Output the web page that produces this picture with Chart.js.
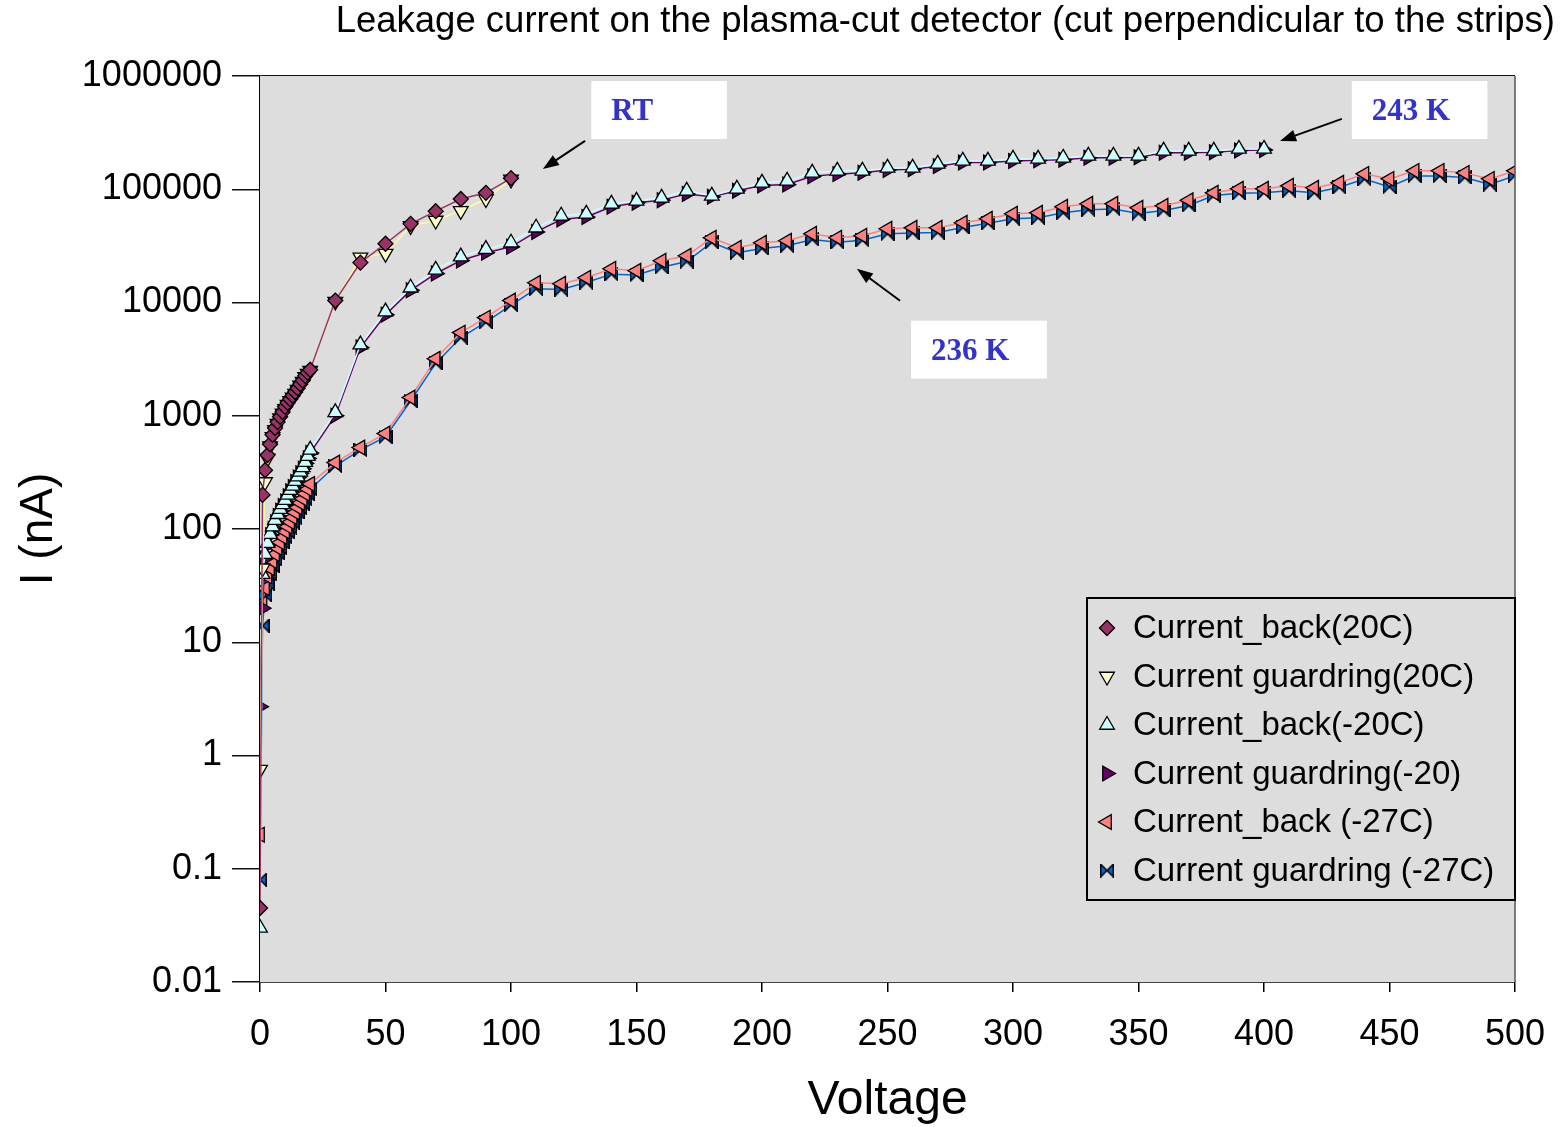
<!DOCTYPE html>
<html>
<head>
<meta charset="utf-8">
<title>Leakage current</title>
<script src="https://cdn.jsdelivr.net/npm/chart.js@4.4.1/dist/chart.umd.min.js"></script>
<style>
  html, body { margin: 0; padding: 0; background: #fff; }
  canvas { display: block; }
</style>
</head>
<body>
<canvas id="leakChart" width="1562" height="1127"></canvas>
<script>
// Bias voltage (V) for each run
const voltsRT = [0, 1, 2, 3, 4, 5, 6, 7, 8, 9, 10, 11, 12, 13, 14, 15, 16, 17, 18, 19, 20,
                 30, 40, 50, 60, 70, 80, 90, 100];
const volts20 = [0, 1, 2, 3, 4, 5, 6, 7, 8, 9, 10, 11, 12, 13, 14, 15, 16, 17, 18, 19, 20,
                 30, 40, 50, 60, 70, 80, 90, 100, 110, 120, 130, 140, 150, 160, 170, 180, 190, 200,
                 210, 220, 230, 240, 250, 260, 270, 280, 290, 300, 310, 320, 330, 340, 350, 360,
                 370, 380, 390, 400];
const volts27 = [0, 1, 2, 3, 4, 5, 6, 7, 8, 9, 10, 11, 12, 13, 14, 15, 16, 17, 18, 19, 20,
                 30, 40, 50, 60, 70, 80, 90, 100, 110, 120, 130, 140, 150, 160, 170, 180, 190, 200,
                 210, 220, 230, 240, 250, 260, 270, 280, 290, 300, 310, 320, 330, 340, 350, 360,
                 370, 380, 390, 400, 410, 420, 430, 440, 450, 460, 470, 480, 490, 500];

// Currents in nA
const backRT = [0.045, 200, 330, 450, 560, 680, 780, 880, 980, 1080, 1200, 1300, 1400, 1500, 1620,
                1750, 1900, 2050, 2250, 2400, 2550,
                10400, 22500, 33000, 49500, 64000, 82000, 93000, 125000];
const guardRT = [0.75, 45, 260, 420, 540, 650, 750, 850, 950, 1050, 1150, 1250, 1350, 1450, 1570,
                 1700, 1850, 2000, 2200, 2350, 2500,
                 10200, 25000, 27000, 47500, 53000, 64500, 82000, 122000];
const back20 = [0.03, 40, 60, 75, 90, 105, 120, 135, 150, 165, 180, 200, 220, 240, 265, 290, 320,
                350, 390, 440, 500,
                1070, 4250, 8300, 13500, 19400, 25400, 29600, 33700,
                45700, 58300, 60700, 74300, 79000, 84000, 96800, 87500, 100800, 113800,
                118600, 139500, 145300, 145300, 154400, 154400, 167400, 178000, 178000, 185400,
                185400, 189000, 197000, 197000, 197000, 218000, 218000, 218000, 227000, 227000];
const guard20 = [2.7, 20, 55, 72, 88, 100, 115, 130, 145, 160, 175, 195, 215, 235, 260, 285, 310,
                 340, 380, 420, 470,
                 1000, 4000, 7800, 12800, 18000, 23500, 27500, 31000,
                 42000, 54000, 57000, 70000, 76000, 80000, 91000, 86000, 97000, 108000,
                 110000, 130000, 136000, 140000, 148000, 150000, 160000, 172000, 172000, 178000,
                 180000, 182000, 190000, 190000, 192000, 210000, 210000, 212000, 220000, 222000];
const back27 = [0.2, 22, 30, 38, 45, 52, 60, 68, 76, 85, 95, 105, 115, 127, 140, 155, 170, 185,
                205, 225, 250,
                386, 525, 697, 1450, 3190, 5420, 7350, 10400,
                14950, 14650, 16550, 19870, 19080, 23370, 25860, 37280, 30420, 33680,
                35080, 40440, 37280, 38820, 44750, 45650, 45650, 50550, 54800, 60700,
                61900, 70000, 74300, 74300, 68500, 71400, 80000, 93000, 100800, 100800,
                107200, 102900, 113900, 136700, 123500, 145300, 145300, 139500, 123500, 145300];
const guard27 = [0.08, 14, 26, 33, 40, 47, 54, 61, 68, 76, 85, 94, 103, 114, 126, 140, 153, 167,
                 185, 203, 225,
                 360, 500, 650, 1350, 2900, 4900, 6700, 9500,
                 13200, 13000, 15000, 17800, 17500, 20500, 23000, 34000, 27500, 30000,
                 31700, 36000, 34000, 35500, 40500, 41000, 41500, 46000, 50000, 55000,
                 56000, 62000, 66000, 67000, 61000, 65000, 72000, 88000, 92000, 93000,
                 97000, 93000, 104000, 123000, 105000, 131000, 131000, 127000, 110000, 132000];

const yTickValues = [0.01, 0.1, 1, 10, 100, 1000, 10000, 100000, 1000000];
const yTickLabels = ['0.01', '0.1', '1', '10', '100', '1000', '10000', '100000', '1000000'];

const titleText = 'Leakage current on the plasma-cut detector (cut perpendicular to the strips)';

// text boxes with arrows, in data units (volts, nA)
const callouts = [
  { text: 'RT',    box: [132, 186, 903000, 278000], from: [129.5, 267000], to: [112.7, 151000] },
  { text: '243 K', box: [435, 489, 903000, 278000], from: [431, 418000],   to: [406.4, 267000] },
  { text: '236 K', box: [259.4, 313.5, 6910, 2130], from: [255, 10370],    to: [237.8, 19870] }
];

const pairs = (xs, ys) => xs.map((x, i) => ({ x: x, y: ys[i] }));

function bowtie(size, fill) {
  const c = document.createElement('canvas');
  c.width = size; c.height = size;
  const g = c.getContext('2d');
  const m = size / 2, e = size - 0.75;
  g.beginPath();
  g.moveTo(0.75, 0.75); g.lineTo(m, m); g.lineTo(e, 0.75);
  g.lineTo(e, e); g.lineTo(m, m); g.lineTo(0.75, e);
  g.closePath();
  g.fillStyle = fill; g.fill();
  g.strokeStyle = '#000'; g.lineWidth = 1.5; g.stroke();
  return c;
}

function series(label, xs, ys, style, rotation, radius, fill, line) {
  return {
    label: label,
    data: pairs(xs, ys),
    borderColor: line,
    borderWidth: 1.5,
    backgroundColor: fill,
    pointStyle: style,
    pointRotation: rotation,
    pointRadius: radius,
    pointBackgroundColor: fill,
    pointBorderColor: '#000',
    pointBorderWidth: 1.3,
    tension: 0
  };
}

const datasets = [
  series('Current_back(20C)', voltsRT, backRT, 'rectRot', 0, 7.5, '#993366', '#993366'),
  series('Current guardring(20C)', voltsRT, guardRT, 'triangle', 180, 8.5, '#FFFFCC', '#FFFF99'),
  series('Current_back(-20C)', volts20, back20, 'triangle', 0, 8.5, '#CCFFFF', '#CCFFFF'),
  series('Current guardring(-20)', volts20, guard20, 'triangle', 90, 8.5, '#660066', '#660066'),
  series('Current_back (-27C)', volts27, back27, 'triangle', -90, 8.5, '#FF8080', '#FF8080'),
  series('Current guardring (-27C)', volts27, guard27, bowtie(14, '#0066CC'), 0, 7, '#0066CC', '#0066CC')
];

const decor = {
  id: 'decor',
  beforeDatasetsDraw(chart) {
    const { ctx, chartArea: a } = chart;
    ctx.save();
    ctx.fillStyle = '#DDDDDD';
    ctx.fillRect(a.left, a.top, a.right - a.left, a.bottom - a.top);
    ctx.restore();
  },
  afterDraw(chart) {
    const { ctx, chartArea: a, scales } = chart;
    const xs = scales.x, ys = scales.y;
    ctx.save();

    // frame on the right side
    ctx.strokeStyle = '#555';
    ctx.lineWidth = 1.5;
    ctx.beginPath();
    ctx.moveTo(a.right, a.top);
    ctx.lineTo(a.right, a.bottom);
    ctx.stroke();

    // title
    ctx.fillStyle = '#000';
    ctx.font = '36.5px "Liberation Sans", Arial, sans-serif';
    ctx.textAlign = 'right';
    ctx.textBaseline = 'middle';
    ctx.fillText(titleText, chart.width - 7, 22);

    // callouts
    callouts.forEach(c => {
      const x0 = xs.getPixelForValue(c.box[0]), x1 = xs.getPixelForValue(c.box[1]);
      const y0 = ys.getPixelForValue(c.box[2]), y1 = ys.getPixelForValue(c.box[3]);
      ctx.fillStyle = '#fff';
      ctx.fillRect(x0, y0, x1 - x0, y1 - y0);
      ctx.fillStyle = '#3333CC';
      ctx.font = 'bold 31px "Liberation Serif", "Times New Roman", serif';
      ctx.textAlign = 'left';
      ctx.textBaseline = 'middle';
      ctx.fillText(c.text, x0 + 20, (y0 + y1) / 2 + 2);

      const fx = xs.getPixelForValue(c.from[0]), fy = ys.getPixelForValue(c.from[1]);
      const tx = xs.getPixelForValue(c.to[0]), ty = ys.getPixelForValue(c.to[1]);
      const ang = Math.atan2(ty - fy, tx - fx);
      ctx.strokeStyle = '#000';
      ctx.lineWidth = 2;
      ctx.beginPath();
      ctx.moveTo(fx, fy);
      ctx.lineTo(tx - 10 * Math.cos(ang), ty - 10 * Math.sin(ang));
      ctx.stroke();
      ctx.fillStyle = '#000';
      ctx.beginPath();
      ctx.moveTo(tx, ty);
      ctx.lineTo(tx - 16 * Math.cos(ang) + 6 * Math.sin(ang), ty - 16 * Math.sin(ang) - 6 * Math.cos(ang));
      ctx.lineTo(tx - 16 * Math.cos(ang) - 6 * Math.sin(ang), ty - 16 * Math.sin(ang) + 6 * Math.cos(ang));
      ctx.closePath();
      ctx.fill();
    });

    // legend box
    const lw = 428, lh = 302;
    const lx = a.right - lw, ly = 598;
    ctx.fillStyle = '#DDDDDD';
    ctx.fillRect(lx, ly, lw, lh);
    ctx.strokeStyle = '#000';
    ctx.lineWidth = 2;
    ctx.strokeRect(lx, ly, lw, lh);
    ctx.font = '33px "Liberation Sans", Arial, sans-serif';
    ctx.textAlign = 'left';
    ctx.textBaseline = 'middle';
    chart.data.datasets.forEach((ds, i) => {
      const cy = ly + 30 + i * 48.5;
      ctx.fillStyle = ds.pointBackgroundColor;
      ctx.strokeStyle = '#000';
      ctx.lineWidth = 1.3;
      Chart.helpers.drawPoint(ctx, {
        pointStyle: ds.pointStyle,
        rotation: ds.pointRotation,
        radius: ds.pointRadius,
        borderWidth: 1.3
      }, lx + 20, cy);
      ctx.fillStyle = '#000';
      ctx.fillText(ds.label, lx + 46, cy + 1);
    });
    ctx.restore();
  }
};

Chart.defaults.font.family = '"Liberation Sans", Arial, sans-serif';
Chart.defaults.color = '#000';

new Chart(document.getElementById('leakChart').getContext('2d'), {
  type: 'line',
  data: { datasets: datasets },
  options: {
    responsive: false,
    animation: false,
    devicePixelRatio: 1,
    layout: { padding: { top: 76, right: 47, left: 0, bottom: 0 } },
    plugins: {
      legend: { display: false },
      title: { display: false },
      tooltip: { enabled: false }
    },
    scales: {
      x: {
        type: 'linear',
        min: 0,
        max: 500,
        afterFit: s => { s.height = 145; s.paddingRight = 0; },
        ticks: { stepSize: 50, padding: 21, font: { size: 36 }, maxRotation: 0 },
        grid: { drawOnChartArea: false, drawTicks: true, tickLength: 10, color: '#000', lineWidth: 1.5 },
        border: { display: true, color: '#000', width: 1.5 },
        title: { display: true, text: 'Voltage', font: { size: 48, lineHeight: 1.1 }, padding: 0 }
      },
      y: {
        type: 'logarithmic',
        min: 0.01,
        max: 1000000,
        afterFit: s => { s.width = 260; },
        afterBuildTicks: s => { s.ticks = yTickValues.map(v => ({ value: v, major: true })); },
        ticks: {
          autoSkip: false,
          padding: 10,
          font: { size: 36 },
          callback: (v, i) => yTickLabels[i]
        },
        grid: { color: '#111', lineWidth: 1.5, tickLength: 28 },
        border: { display: true, color: '#000', width: 1.5 },
        title: { display: true, text: 'I (nA)', font: { size: 46 }, padding: { top: 12, bottom: 0 } }
      }
    }
  },
  plugins: [decor]
});
</script>
</body>
</html>
